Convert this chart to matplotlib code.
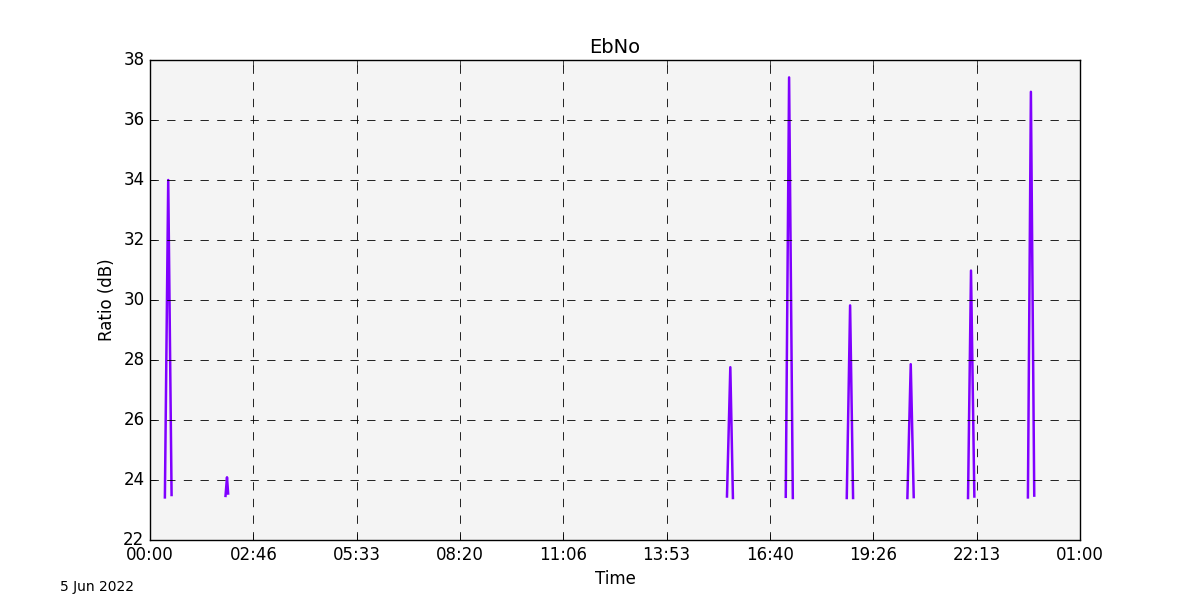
import datetime as dt
import numpy as np
import matplotlib
matplotlib.use('Agg')
import matplotlib.pyplot as plt
import matplotlib.dates as mdates

plt.style.use('classic')

day = dt.datetime(2022, 6, 5)

# each pass: (start, peak, end) in hours since midnight, and EbNo values (dB)
pass_hours = [
    (0.40, 0.49, 0.58),
    (2.03, 2.07, 2.10),
    (15.51, 15.60, 15.67),
    (17.09, 17.18, 17.28),
    (18.73, 18.82, 18.90),
    (20.36, 20.45, 20.53),
    (21.99, 22.07, 22.16),
    (23.60, 23.68, 23.77),
]
pass_ebno = [
    (23.42, 34.0, 23.50),
    (23.47, 24.09, 23.55),
    (23.45, 27.76, 23.40),
    (23.44, 37.42, 23.40),
    (23.40, 29.82, 23.40),
    (23.40, 27.86, 23.43),
    (23.40, 30.98, 23.45),
    (23.42, 36.94, 23.48),
]

times = []
vals = []
for hrs, v in zip(pass_hours, pass_ebno):
    for h, e in zip(hrs, v):
        times.append(day + dt.timedelta(hours=h))
        vals.append(e)
    times.append(day + dt.timedelta(hours=hrs[-1] + 0.01))
    vals.append(np.nan)

fig = plt.figure(figsize=(12, 6), dpi=100)
fig.patch.set_facecolor('white')
ax = fig.add_axes([0.125, 0.1, 0.775, 0.8])
ax.set_facecolor('#f4f4f4')
ax.plot(times, vals, color='#7f00ff', lw=1.8)

start = mdates.date2num(day)
end = mdates.date2num(day + dt.timedelta(hours=25))
ax.set_xlim(start, end)
ax.set_xticks(np.linspace(start, end, 10))
ax.xaxis.set_major_formatter(mdates.DateFormatter('%H:%M'))
ax.set_ylim(22, 38)
ax.set_yticks(np.arange(22, 39, 2))
ax.grid(True, color='k', ls='--', lw=0.6)

ax.set_title('EbNo', fontsize=14)
ax.set_xlabel('Time')
ax.set_ylabel('Ratio (dB)')
fig.text(0.05, 0.015, '5 Jun 2022', fontsize=10)

fig.savefig('out.png', dpi=100, facecolor='white')
